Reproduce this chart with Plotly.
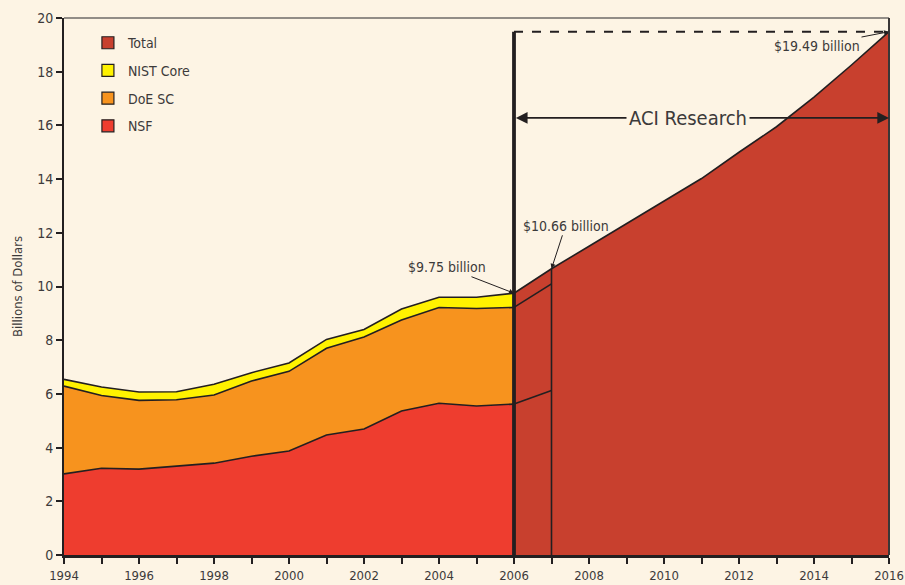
import plotly.graph_objects as go

# ---- data ----
years = [1994, 1995, 1996, 1997, 1998, 1999, 2000, 2001, 2002, 2003, 2004, 2005, 2006]
nsf = [3.02, 3.23, 3.20, 3.31, 3.42, 3.68, 3.87, 4.47, 4.69, 5.36, 5.65, 5.55, 5.62]
doe_sc = [3.27, 2.71, 2.56, 2.47, 2.54, 2.80, 2.97, 3.23, 3.43, 3.39, 3.57, 3.63, 3.60]
nist_core = [0.25, 0.32, 0.31, 0.30, 0.40, 0.31, 0.31, 0.33, 0.28, 0.41, 0.38, 0.42, 0.53]

proj_years = [2006, 2007, 2008, 2009, 2010, 2011, 2012, 2013, 2014, 2015, 2016]
proj_total = [9.75, 10.66, 11.50, 12.34, 13.18, 14.02, 15.00, 15.95, 17.05, 18.25, 19.49]
proj_nsf_years = [2006, 2007]
proj_nsf = [5.62, 6.13]
proj_doe_top = [9.22, 10.10]

tick_years = list(range(1994, 2017))
tick_labels = [str(y) if y % 2 == 0 else "" for y in tick_years]

legend_names = ["Total", "NIST Core", "DoE SC", "NSF"]

# ---- style ----
BG = "#FDF4E4"
INK = "#231F20"
TXT = "#3C3A3A"
C_TOTAL = "#C8402E"
C_NIST = "#FFF200"
C_DOE = "#F7931E"
C_NSF = "#EE3D2F"
FONT = "DejaVu Sans Condensed, Liberation Sans Narrow, Arial Narrow, sans-serif"
legend_colors = [C_TOTAL, C_NIST, C_DOE, C_NSF]

fig = go.Figure()

# historical stacked areas
for name, vals, col in [("NSF", nsf, C_NSF), ("DoE SC", doe_sc, C_DOE), ("NIST Core", nist_core, C_NIST)]:
    fig.add_trace(go.Scatter(
        x=years, y=vals, stackgroup="hist", mode="lines",
        line=dict(color=INK, width=1.6), fillcolor=col, showlegend=False,
        hoverinfo="skip"))

# projection total area
fig.add_trace(go.Scatter(
    x=proj_years, y=proj_total, mode="lines", fill="tozeroy",
    line=dict(color=INK, width=1.6), fillcolor=C_TOTAL, showlegend=False,
    hoverinfo="skip"))
# projection sub-lines 2006-2007
for vals in (proj_nsf, proj_doe_top):
    fig.add_trace(go.Scatter(
        x=proj_nsf_years, y=vals, mode="lines",
        line=dict(color=INK, width=1.6), showlegend=False, hoverinfo="skip"))

# legend-only entries
for i, (name, col) in enumerate(zip(legend_names, legend_colors)):
    fig.add_trace(go.Bar(
        x=[None], y=[None], name=name, marker=dict(color=col, line=dict(color=INK, width=1.2)),
        legendgroup=name, showlegend=True))

shapes = [
    dict(type="line", xref="x", yref="y", x0=proj_years[0], x1=proj_years[0],
         y0=0, y1=proj_total[-1], line=dict(color=INK, width=3.8), layer="above"),
    dict(type="line", xref="x", yref="y", x0=proj_years[1], x1=proj_years[1],
         y0=0, y1=proj_total[1], line=dict(color=INK, width=1.6), layer="above"),
    dict(type="line", xref="x", yref="y", x0=proj_years[0], x1=proj_years[-1],
         y0=proj_total[-1], y1=proj_total[-1], line=dict(color=INK, width=2, dash="dash"), layer="above"),
    dict(type="line", xref="paper", yref="paper", x0=0, x1=1, y0=1, y1=1,
         line=dict(color="#6E6B69", width=1.5)),
    dict(type="line", xref="paper", yref="paper", x0=1, x1=1, y0=0, y1=1,
         line=dict(color="#3A3737", width=2)),
]

aci_y = 16.28
annotations = [
    dict(x=2006, y=proj_total[0], ax=-67, ay=-26, text="$9.75 billion", showarrow=True,
         arrowhead=2, arrowsize=1, arrowwidth=1, arrowcolor=INK,
         font=dict(family=FONT, size=14, color=TXT)),
    dict(x=2007, y=proj_total[1], ax=14, ay=-43, text="$10.66 billion", showarrow=True,
         arrowhead=2, arrowsize=1, arrowwidth=1, arrowcolor=INK,
         font=dict(family=FONT, size=14, color=TXT)),
    dict(x=2016, y=proj_total[-1], ax=-72, ay=14, text="$19.49 billion", showarrow=True,
         arrowhead=2, arrowsize=1, arrowwidth=1, arrowcolor=INK,
         font=dict(family=FONT, size=14, color=TXT)),
    dict(x=2006.05, y=aci_y, ax=2010.6, ay=aci_y, axref="x", ayref="y", text="",
         showarrow=True, arrowhead=2, arrowsize=1.3, arrowwidth=1.8, arrowcolor=INK),
    dict(x=2016, y=aci_y, ax=2010.6, ay=aci_y, axref="x", ayref="y", text="",
         showarrow=True, arrowhead=2, arrowsize=1.3, arrowwidth=1.8, arrowcolor=INK),
    dict(x=2010.65, y=aci_y, text="ACI Research", showarrow=False, bgcolor=BG,
         borderpad=2, font=dict(family=FONT, size=20, color=TXT)),
]

fig.update_layout(
    width=905, height=585,
    margin=dict(l=64, r=16, t=18, b=30, autoexpand=False),
    paper_bgcolor=BG, plot_bgcolor=BG,
    font=dict(family=FONT, size=14, color=TXT),
    showlegend=True,
    legend=dict(x=0.029, y=0.983, xanchor="left", yanchor="top",
                bgcolor="rgba(0,0,0,0)", tracegroupgap=6.5,
                font=dict(family=FONT, size=14, color=TXT), traceorder="grouped"),
    shapes=shapes, annotations=annotations,
    xaxis=dict(type="linear", range=[1994, 2016], tickmode="array", tickvals=tick_years,
               ticktext=tick_labels, ticks="outside", ticklen=6, tickwidth=1.5, tickcolor=INK,
               showline=True, linecolor=INK, linewidth=3, showgrid=False, zeroline=False,
               automargin=False, ticklabeloverflow="allow",
               tickfont=dict(family=FONT, size=13, color=TXT)),
    yaxis=dict(range=[0, 20], dtick=2, ticks="outside", ticklen=6, tickwidth=1.5, tickcolor=INK,
               showline=True, linecolor=INK, linewidth=2, showgrid=False, zeroline=False,
               automargin=False,
               title=dict(text="Billions of Dollars", font=dict(family=FONT, size=13, color=TXT), standoff=12),
               tickfont=dict(family=FONT, size=14, color=TXT)),
    bargap=0.2,
)

fig.write_html("out.html", config={"displayModeBar": False})

# remove the default page margin so the figure fills the window exactly
with open("out.html", "r", encoding="utf-8") as f:
    html = f.read()
html = html.replace("<head>", "<head><style>html,body{margin:0;padding:0;overflow:hidden;background:%s;}</style>" % BG, 1)
with open("out.html", "w", encoding="utf-8") as f:
    f.write(html)
